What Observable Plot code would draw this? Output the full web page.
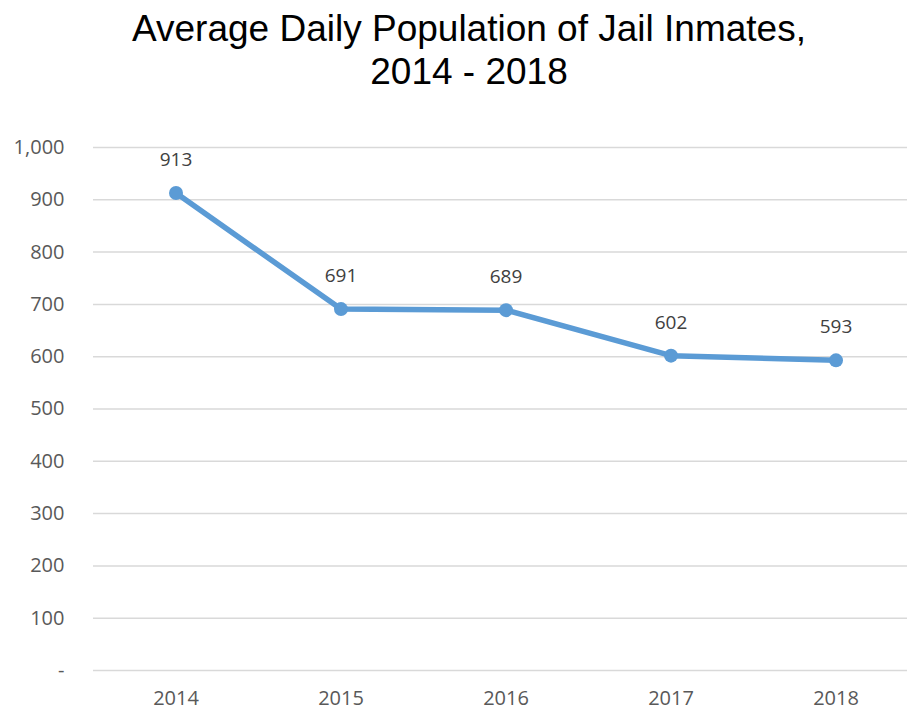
<!DOCTYPE html>
<html>
<head>
<meta charset="utf-8">
<script src="https://cdn.jsdelivr.net/npm/d3@7"></script>
<script src="https://cdn.jsdelivr.net/npm/@observablehq/plot@0.6"></script>
<style>
  html, body { margin: 0; padding: 0; background: #fff; }
  #title { width: 907px; height: 100px; text-align: center; font-family: "Liberation Sans", Arial, sans-serif; font-size: 37px; line-height: 43px; color: #000; padding-top: 7px; padding-left: 31px; box-sizing: border-box; }
  svg { display: block; }
</style>
</head>
<body>
<div id="title">Average Daily Population of Jail Inmates,<br>2014 - 2018</div>
<div id="chart"></div>
<script>
const years = ["2014", "2015", "2016", "2017", "2018"];
const population = [913, 691, 689, 602, 593];
const yTicks = [0, 100, 200, 300, 400, 500, 600, 700, 800, 900, 1000];

const data = years.map((y, i) => ({year: y, value: population[i]}));
const fmt = v => v === 0 ? "-" : d3.format(",")(v);

const chart = Plot.plot({
  width: 907,
  height: 611,
  marginTop: 47,
  marginBottom: 41,
  marginLeft: 93,
  marginRight: -11,
  style: {fontFamily: "'Open Sans', sans-serif", fontSize: "20px", color: "#595959", background: "#fff"},
  x: {type: "band", domain: years, padding: 0, label: null},
  y: {domain: [0, 1000], ticks: yTicks, label: null},
  marks: [
    Plot.ruleY(yTicks, {stroke: "#d9d9d9", strokeWidth: 1.5}),
    Plot.axisY({ticks: yTicks, tickFormat: fmt, tickSize: 0, tickPadding: 29, label: null, fill: "#595959", fontSize: 20}),
    Plot.axisX({tickSize: 0, tickPadding: 20, label: null, fill: "#595959", fontSize: 20}),
    Plot.line(data, {x: "year", y: "value", stroke: "#5b9bd5", strokeWidth: 5.5, strokeLinejoin: "round", strokeLinecap: "round"}),
    Plot.dot(data, {x: "year", y: "value", r: 7, fill: "#5b9bd5", stroke: null}),
    Plot.text(data, {x: "year", y: "value", text: d => String(d.value), dy: -33, fill: "#404040", fontSize: 19})
  ]
});
document.getElementById("chart").appendChild(chart);
</script>
</body>
</html>
